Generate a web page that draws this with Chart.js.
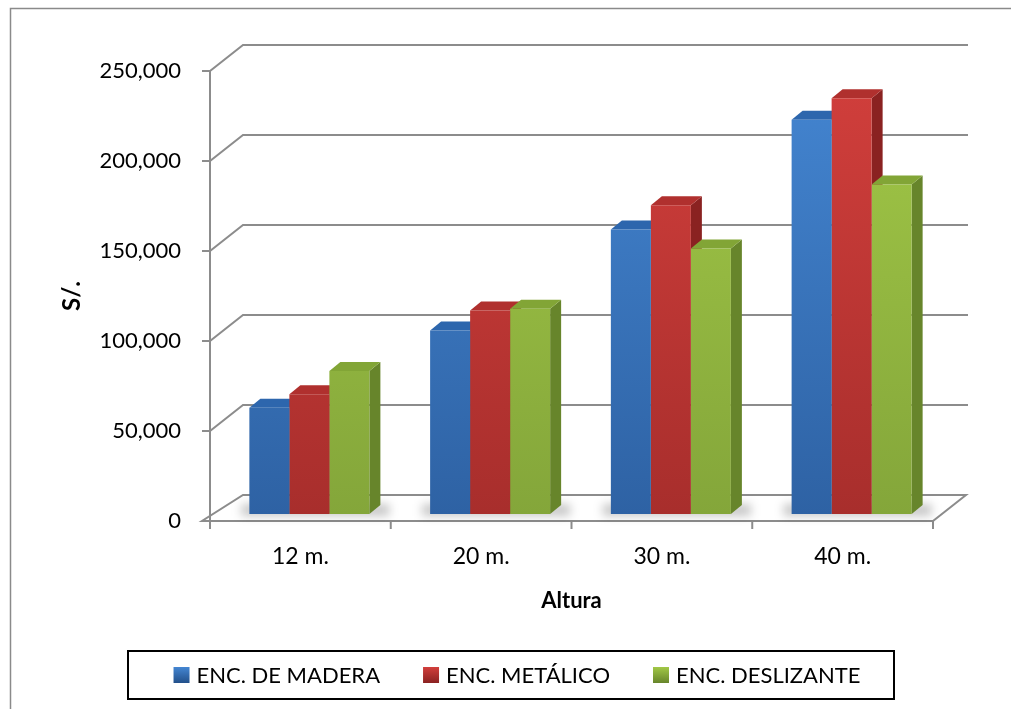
<!DOCTYPE html>
<html>
<head>
<meta charset="utf-8">
<script src="https://cdn.jsdelivr.net/npm/chart.js@4/dist/chart.umd.min.js"></script>
<style>
  html, body { margin: 0; padding: 0; background: #ffffff; }
  #wrap { position: relative; width: 1011px; height: 709px; }
</style>
</head>
<body>
<div id="wrap"><canvas id="c" width="1011" height="709"></canvas></div>
<script>
// ---- data ----
const categories = ['12 m.', '20 m.', '30 m.', '40 m.'];
const seriesNames = ['ENC. DE MADERA', 'ENC. METÁLICO', 'ENC. DESLIZANTE'];
const encMadera = [59000, 102000, 158000, 219000];
const encMetalico = [66500, 113000, 171500, 231000];
const encDeslizante = [79500, 114000, 147500, 183000];
const yMin = 0;
const yMax = 250000;
const yStep = 50000;
const xTitle = 'Altura';
const yTitle = 'S/.';

// ---- styling ----
const FONT = 'Lato, "Open Sans", sans-serif';
const faceColors = [
  { hi: '#4486d2', lo: '#2e62a4', top: '#2d66ad', side: '#22508a' },
  { hi: '#d23f3c', lo: '#a82e2c', top: '#b0302e', side: '#8a2221' },
  { hi: '#a2c847', lo: '#84a63a', top: '#82a536', side: '#67852b' }
];
const GRID = '#8c8c8c';
const frontShift = [-9, 7];    // bar plane -> front edge of the floor
const wallShift = [33, -26];   // front edge -> back wall
const barDepth = [11, -9];     // depth of each 3D bar

function frontGradient(ctx, i) {
  const chart = ctx.chart;
  const a = chart.chartArea;
  if (!a) return faceColors[i].hi;
  const g = chart.ctx.createLinearGradient(0, a.top, 0, a.bottom);
  g.addColorStop(0, faceColors[i].hi);
  g.addColorStop(1, faceColors[i].lo);
  return g;
}

function poly(ctx, pts, fill) {
  ctx.beginPath();
  ctx.moveTo(pts[0][0], pts[0][1]);
  for (let k = 1; k < pts.length; k++) ctx.lineTo(pts[k][0], pts[k][1]);
  ctx.closePath();
  ctx.fillStyle = fill;
  ctx.fill();
}

const scene3d = {
  id: 'scene3d',
  beforeDatasetsDraw(chart) {
    const ctx = chart.ctx;
    const xs = chart.scales.x, ys = chart.scales.y;
    const xl = xs.left + frontShift[0];
    const xr = xs.right + frontShift[0];
    const fy = v => ys.getPixelForValue(v) + frontShift[1];
    const y0 = fy(0);
    ctx.save();
    ctx.strokeStyle = GRID;
    ctx.lineWidth = 2;
    ctx.lineJoin = 'miter';

    // back wall grid lines and the floor
    ys.ticks.forEach(t => {
      const y = fy(t.value);
      ctx.beginPath();
      ctx.moveTo(xl - 8, y);
      ctx.lineTo(xl, y);
      if (t.value === 0) {
        ctx.lineTo(xr, y);
        ctx.lineTo(xr + wallShift[0], y + wallShift[1]);
        ctx.lineTo(xl + wallShift[0], y + wallShift[1]);
        ctx.closePath();
        ctx.fillStyle = '#ffffff';
        ctx.fill();
      } else {
        ctx.lineTo(xl + wallShift[0], y + wallShift[1]);
        ctx.lineTo(xr + wallShift[0] + 2, y + wallShift[1]);
      }
      ctx.stroke();
    });

    // vertical axis line
    ctx.beginPath();
    ctx.moveTo(xl, fy(yMax));
    ctx.lineTo(xl, y0);
    ctx.stroke();

    // category tick marks
    const n = categories.length;
    for (let i = 0; i <= n; i++) {
      const x = xl + i * (xr - xl) / n;
      ctx.beginPath();
      ctx.moveTo(x, y0);
      ctx.lineTo(x, y0 + 8);
      ctx.stroke();
    }

    // value labels
    ctx.fillStyle = '#000000';
    ctx.font = '22px ' + FONT;
    ctx.textAlign = 'right';
    ctx.textBaseline = 'middle';
    ys.ticks.forEach(t => {
      ctx.fillText(t.value.toLocaleString('en-US'), xl - 29, fy(t.value));
    });

    // category labels
    ctx.textAlign = 'center';
    ctx.font = '23px ' + FONT;
    categories.forEach((c, i) => {
      ctx.fillText(c, xs.getPixelForValue(i) + frontShift[0], y0 + 36);
    });

    // axis titles
    ctx.font = 'bold 22px ' + FONT;
    ctx.fillText(xTitle, (xl + xr) / 2, y0 + 80);
    ctx.save();
    ctx.font = 'bold 24px ' + FONT;
    ctx.translate(72, (fy(yMax) + y0) / 2);
    ctx.rotate(-Math.PI / 2);
    ctx.fillText(yTitle, 0, 0);
    ctx.restore();

    // soft shadow on the floor under each group
    const metas = [0, 1, 2].map(d => chart.getDatasetMeta(d));
    ctx.save();
    ctx.filter = 'blur(5px)';
    ctx.fillStyle = 'rgba(0,0,0,0.22)';
    categories.forEach((c, i) => {
      const first = metas[0].data[i].getProps(['x', 'width', 'base'], true);
      const last = metas[2].data[i].getProps(['x', 'width', 'base'], true);
      const l = first.x - first.width / 2 - 8;
      const r = last.x + last.width / 2 + 20;
      ctx.fillRect(l, first.base - 10, r - l, 12);
    });
    ctx.restore();

    // side and top faces of every bar, left to right
    metas.forEach((meta, d) => {
      meta.data.forEach(el => {
        const p = el.getProps(['x', 'y', 'base', 'width'], true);
        const l = p.x - p.width / 2, r = p.x + p.width / 2;
        const dx = barDepth[0], dy = barDepth[1];
        poly(ctx, [[r, p.y], [r + dx, p.y + dy], [r + dx, p.base + dy], [r, p.base]], faceColors[d].side);
        poly(ctx, [[l, p.y], [r, p.y], [r + dx, p.y + dy], [l + dx, p.y + dy]], faceColors[d].top);
      });
    });
    ctx.restore();
  },
  afterDraw(chart) {
    const ctx = chart.ctx;
    ctx.save();
    // outer frame
    ctx.strokeStyle = '#8a8a8a';
    ctx.lineWidth = 1.5;
    ctx.strokeRect(10.5, 8.5, 1100, 800);

    // legend box
    const bx = 128, by = 651, bw = 766, bh = 48;
    ctx.strokeStyle = '#000000';
    ctx.lineWidth = 2;
    ctx.strokeRect(bx, by, bw, bh);
    ctx.font = '22px ' + FONT;
    ctx.textBaseline = 'middle';
    ctx.textAlign = 'left';
    const sq = 16, gapIn = 7, gapOut = 43;
    const widths = chart.data.datasets.map(ds => ctx.measureText(ds.label).width);
    const total = widths.reduce((a, w) => a + sq + gapIn + w, 0) + gapOut * (widths.length - 1);
    let x = bx + bw / 2 - total / 2 + 6;
    const cy = by + bh / 2;
    chart.data.datasets.forEach((ds, d) => {
      const g = ctx.createLinearGradient(x, cy - sq / 2, x, cy + sq / 2);
      g.addColorStop(0, faceColors[d].hi);
      g.addColorStop(1, faceColors[d].side);
      ctx.fillStyle = g;
      ctx.fillRect(x, cy - sq / 2, sq, sq);
      ctx.fillStyle = '#000000';
      ctx.fillText(ds.label, x + sq + gapIn, cy + 1);
      x += sq + gapIn + widths[d] + gapOut;
    });
    ctx.restore();
  }
};

const seriesValues = [encMadera, encMetalico, encDeslizante];

new Chart(document.getElementById('c'), {
  type: 'bar',
  data: {
    labels: categories,
    datasets: seriesValues.map((vals, i) => ({
      label: seriesNames[i],
      data: vals,
      backgroundColor: ctx => frontGradient(ctx, i),
      borderWidth: 0,
      categoryPercentage: 0.664,
      barPercentage: 1,
      clip: false
    }))
  },
  options: {
    responsive: false,
    animation: false,
    devicePixelRatio: 1,
    layout: { padding: { left: 219, right: 69, top: 64, bottom: 195 } },
    scales: {
      x: { display: false, grid: { display: false } },
      y: { display: false, min: yMin, max: yMax, ticks: { stepSize: yStep } }
    },
    plugins: {
      legend: { display: false },
      tooltip: { enabled: false }
    }
  },
  plugins: [scene3d]
});
</script>
</body>
</html>
